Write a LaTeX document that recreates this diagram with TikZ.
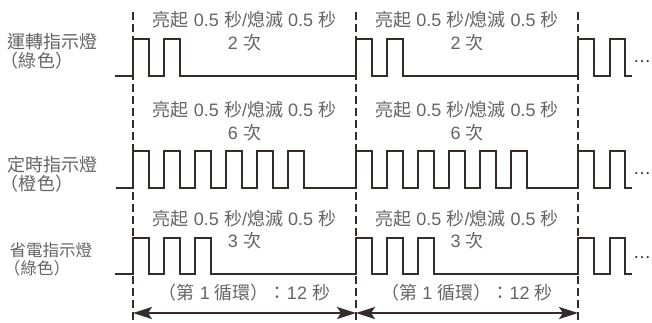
\documentclass[tikz,border=0pt]{standalone}
\usepackage{fontspec}
\setmainfont{Liberation Sans}
\newfontfamily\cjkfont{Noto Sans CJK TC}
\usetikzlibrary{arrows.meta}
\newcommand\zh[1]{{\cjkfont #1}}
\definecolor{txtgray}{RGB}{100,100,100}
\definecolor{linedark}{RGB}{52,44,40}
\begin{document}
\begin{tikzpicture}[x=1pt,y=-1pt,
  sig/.style={draw=linedark,line width=2pt,line join=miter},
  divider/.style={draw=linedark,line width=2.5pt,dash pattern=on 8pt off 4pt},
  lbl/.style={text=txtgray,font=\fontsize{18}{20}\selectfont,inner sep=0pt},
  lblsmall/.style={text=txtgray,font=\fontsize{16.5}{18}\selectfont,inner sep=0pt},
  more/.style={text=linedark,font=\fontsize{18}{20}\selectfont,inner sep=0pt,anchor=base west},
  span/.style={draw=linedark,line width=2pt,{Stealth[length=19pt,width=12pt,inset=4pt]}-{Stealth[length=19pt,width=12pt,inset=4pt]}}
]
\useasboundingbox (0,0) rectangle (652,322);

% dividers
\foreach \x [count=\i] in {133,356,578}{
  \coordinate (d\i t) at (\x,12);
  \coordinate (d\i b) at (\x,322);
  \draw[divider] (d\i t) -- (d\i b);
}

% row 1 (base 76, top 39): 2,2,2 pulses
\draw[sig] (115,76)
  foreach \k in {0,1}{ -- ({133+31*\k},76) -- ({133+31*\k},39) -- ({148.5+31*\k},39) -- ({148.5+31*\k},76) }
  foreach \k in {0,1}{ -- ({356+31*\k},76) -- ({356+31*\k},39) -- ({371.5+31*\k},39) -- ({371.5+31*\k},76) }
  foreach \k in {0,1}{ -- ({578+31.5*\k},76) -- ({578+31.5*\k},39) -- ({593.5+31.5*\k},39) -- ({593.5+31.5*\k},76) }
  -- (632,76);
% row 2 (base 188, top 151): 6,6,2 pulses
\draw[sig] (116,188)
  foreach \k in {0,...,5}{ -- ({133+31*\k},188) -- ({133+31*\k},151) -- ({148.5+31*\k},151) -- ({148.5+31*\k},188) }
  foreach \k in {0,...,5}{ -- ({356+31*\k},188) -- ({356+31*\k},151) -- ({371.5+31*\k},151) -- ({371.5+31*\k},188) }
  foreach \k in {0,1}{ -- ({578+31.5*\k},188) -- ({578+31.5*\k},151) -- ({593.5+31.5*\k},151) -- ({593.5+31.5*\k},188) }
  -- (632,188);
% row 3 (base 274, top 238): 3,3,2 pulses
\draw[sig] (115,274)
  foreach \k in {0,1,2}{ -- ({133+31*\k},274) -- ({133+31*\k},238) -- ({148.5+31*\k},238) -- ({148.5+31*\k},274) }
  foreach \k in {0,1,2}{ -- ({356+31*\k},274) -- ({356+31*\k},238) -- ({371.5+31*\k},238) -- ({371.5+31*\k},274) }
  foreach \k in {0,1}{ -- ({578+31.5*\k},274) -- ({578+31.5*\k},238) -- ({593.5+31.5*\k},238) -- ({593.5+31.5*\k},274) }
  -- (632,274);

% continuation dots
\node[more] (m1) at (633,62.5) {…};
\node[more] (m2) at (633,174.5) {…};
\node[more] (m3) at (633,258.5) {…};

% left labels
\node[lbl,anchor=west] (n1a) at (7.5,42) {\zh{運轉指示燈}};
\node[lbl] (n1b) at (37,61) {\zh{（綠色）}};
\node[lbl,anchor=west] (n2a) at (7.5,165) {\zh{定時指示燈}};
\node[lbl] (n2b) at (37,184) {\zh{（橙色）}};
\node[lblsmall,anchor=west] (n3a) at (9.5,250) {\zh{省電指示燈}};
\node[lblsmall] (n3b) at (37,268) {\zh{（綠色）}};

% period texts
\foreach \cx [count=\j] in {244.5,467}{
  \node[lbl] (r1a\j) at (\cx,20) {\zh{亮起} 0.5 \zh{秒}/\zh{熄滅} 0.5 \zh{秒}};
  \node[lbl] (r1b\j) at (\cx,43) {2 \zh{次}};
  \node[lbl] (r2a\j) at (\cx,110) {\zh{亮起} 0.5 \zh{秒}/\zh{熄滅} 0.5 \zh{秒}};
  \node[lbl] (r2b\j) at (\cx,133) {6 \zh{次}};
  \node[lbl] (r3a\j) at (\cx,219) {\zh{亮起} 0.5 \zh{秒}/\zh{熄滅} 0.5 \zh{秒}};
  \node[lbl] (r3b\j) at (\cx,241) {3 \zh{次}};
  \node[lbl] (cyc\j) at (\cx,293) {\zh{（第} 1 \zh{循環）：}12 \zh{秒}};
}

% cycle arrows
\coordinate (c1) at (133,313);
\coordinate (c2) at (356,313);
\coordinate (c3) at (578,313);
\draw[span] (c1) -- (c2);
\draw[span] (c2) -- (c3);
\end{tikzpicture}
\end{document}
